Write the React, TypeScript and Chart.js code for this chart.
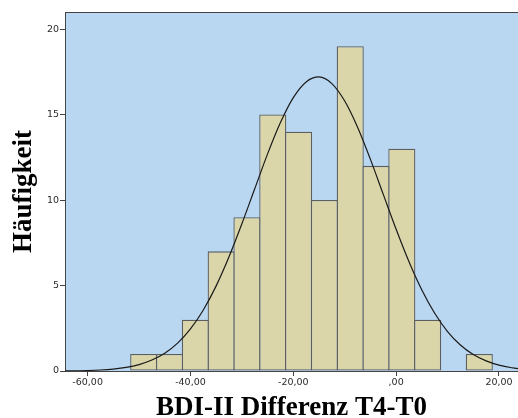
import React, { useEffect, useRef } from "react";
import { Chart, registerables } from "chart.js";

Chart.register(...registerables);

// Histogram bins (centres) and counts
const binCenters = [-49.09, -44.07, -39.05, -34.03, -29.01, -23.99, -18.97, -13.95, -8.93, -3.91, 1.11, 6.13, 11.15, 16.17];
const binCounts = [1, 1, 3, 7, 9, 15, 14, 10, 19, 12, 13, 3, 0, 1];

// Normal curve
const curveX = [-65, -62.5, -60, -57.5, -55, -52.5, -50, -47.5, -45, -42.5, -40, -37.5, -35, -32.5, -30, -27.5, -25, -22.5, -20, -17.5, -15, -12.5, -10, -7.5, -5, -2.5, 0, 2.5, 5, 7.5, 10, 12.5, 15, 17.5, 20, 22.5, 25];
const curveY = [0.007, 0.015, 0.03, 0.06, 0.115, 0.21, 0.375, 0.64, 1.04, 1.63, 2.46, 3.57, 4.98, 6.68, 8.61, 10.66, 12.7, 14.53, 15.99, 16.91, 17.2, 16.81, 15.79, 14.26, 12.38, 10.33, 8.29, 6.39, 4.74, 3.38, 2.31, 1.52, 0.96, 0.59, 0.34, 0.19, 0.1];

// Axis ticks
const xTickValues = [-60, -40, -20, 0, 20];
const xTickLabels = ["-60,00", "-40,00", "-20,00", ",00", "20,00"];
const yTickValues = [0, 5, 10, 15, 20];
const yTickLabels = ["0", "5", "10", "15", "20"];

const xTitle = "BDI-II Differenz T4-T0";
const yTitle = "Häufigkeit";

export default function App() {
  const ref = useRef<HTMLCanvasElement | null>(null);

  useEffect(() => {
    if (!ref.current) return;
    const bg = {
      id: "plotBg",
      beforeDraw(chart: any) {
        const { ctx, chartArea: a } = chart;
        ctx.save();
        ctx.fillStyle = "#b9d7f1";
        ctx.fillRect(a.left, a.top, a.right - a.left, a.bottom - a.top);
        ctx.restore();
      },
      afterDraw(chart: any) {
        const { ctx, chartArea: a } = chart;
        ctx.save();
        ctx.strokeStyle = "#444";
        ctx.lineWidth = 1;
        ctx.beginPath();
        ctx.moveTo(a.left, Math.round(a.top) + 0.5);
        ctx.lineTo(a.right, Math.round(a.top) + 0.5);
        ctx.stroke();
        ctx.restore();
      },
    };

    const chart = new Chart(ref.current, {
      type: "bar",
      data: {
        datasets: [
          {
            type: "line",
            data: curveX.map((x, i) => ({ x, y: curveY[i] })),
            borderColor: "#1a1a1a",
            borderWidth: 1.2,
            pointRadius: 0,
            cubicInterpolationMode: "monotone",
            fill: false,
            order: 0,
          } as any,
          {
            type: "bar",
            data: binCenters.map((x, i) => ({ x, y: binCounts[i] === 0 ? null : binCounts[i] })),
            backgroundColor: "#dad6a9",
            borderColor: "#5e5e5e",
            borderWidth: 1.3,
            borderSkipped: false,
            barPercentage: 1.05,
            categoryPercentage: 1,
            order: 1,
          } as any,
        ],
      },
      options: {
        animation: false,
        responsive: false,
        devicePixelRatio: 1,
        layout: { padding: { top: 12, right: 0, left: 0, bottom: 0 } },
        plugins: { legend: { display: false }, tooltip: { enabled: false } },
        scales: {
          x: {
            type: "linear",
            min: -64.4,
            max: 23.7,
            offset: false,
            afterBuildTicks(scale: any) {
              scale.ticks = xTickValues.map((v) => ({ value: v }));
            },
            afterFit(scale: any) {
              scale.height = 47;
            },
            ticks: {
              callback: (v: any) => {
                const i = xTickValues.indexOf(Number(v));
                return i >= 0 ? xTickLabels[i] : "";
              },
              font: { family: "DejaVu Sans", size: 9.5 },
              color: "#2a2a2a",
              padding: 1,
              maxRotation: 0,
              autoSkip: false,
            },
            grid: { display: true, offset: false, drawOnChartArea: false, drawTicks: true, tickLength: 5, color: "#444" },
            border: { display: true, color: "#444" },
            title: {
              display: true,
              text: xTitle,
              font: { family: "Liberation Serif", size: 27, weight: "bold", lineHeight: 0.8 },
              color: "#000",
              padding: { top: 0, bottom: -1 },
            },
          },
          y: {
            type: "linear",
            min: 0,
            max: 21,
            afterBuildTicks(scale: any) {
              scale.ticks = yTickValues.map((v) => ({ value: v }));
            },
            afterFit(scale: any) {
              scale.width = 65;
            },
            ticks: {
              callback: (v: any) => {
                const i = yTickValues.indexOf(Number(v));
                return i >= 0 ? yTickLabels[i] : "";
              },
              font: { family: "DejaVu Sans", size: 9.5 },
              color: "#2a2a2a",
              padding: 1,
              autoSkip: false,
            },
            grid: { display: true, offset: false, drawOnChartArea: false, drawTicks: true, tickLength: 5, color: "#444" },
            border: { display: true, color: "#444" },
            title: {
              display: true,
              text: yTitle,
              font: { family: "Liberation Serif", size: 27, weight: "bold", lineHeight: 0.8 },
              color: "#000",
              padding: { top: 13, bottom: 0 },
            },
          },
        },
      },
      plugins: [bg],
    } as any);
    return () => chart.destroy();
  }, []);

  return (
    <div style={{ position: "absolute", left: 0, top: 0, width: 518, height: 418 }}>
      <canvas ref={ref} width={518} height={418} style={{ display: "block" }} />
    </div>
  );
}
